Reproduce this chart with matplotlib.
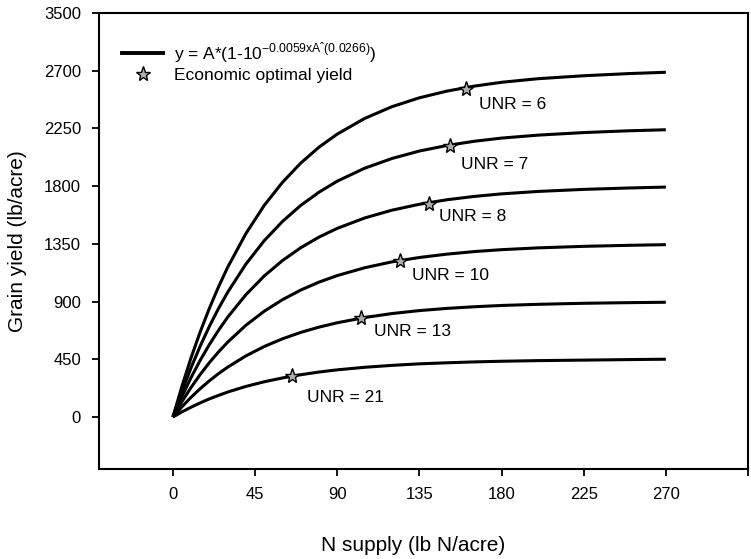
"""Grain yield response curves to N supply at several UNR values."""
import numpy as np
from matplotlib import pyplot as plt
from matplotlib.lines import Line2D

plt.rcParams['font.family'] = ['Liberation Sans', 'DejaVu Sans']
plt.rcParams['mathtext.fontset'] = 'custom'
plt.rcParams['mathtext.rm'] = 'Liberation Sans'

# N supply (lb N/acre) where the curves were read
n_supply = [0, 5, 10, 15, 20, 25, 30, 40, 50, 60, 70, 80, 90, 105, 120,
            135, 150, 165, 180, 200, 225, 250, 270]

# grain yield (lb/acre)
yield_unr6 = [0, 243, 465, 666, 849, 1016, 1168, 1431, 1650, 1830, 1980,
              2104, 2206, 2328, 2420, 2489, 2541, 2580, 2610, 2638, 2661,
              2678, 2688]
yield_unr7 = [0, 203, 387, 555, 708, 847, 973, 1193, 1375, 1525, 1650,
              1753, 1839, 1940, 2016, 2074, 2117, 2150, 2175, 2198, 2218,
              2232, 2240]
yield_unr8 = [0, 162, 310, 444, 566, 677, 779, 954, 1100, 1220, 1320,
              1403, 1471, 1552, 1613, 1659, 1694, 1720, 1740, 1759, 1775,
              1786, 1793]
yield_unr10 = [0, 122, 232, 333, 425, 508, 584, 716, 825, 915, 990, 1052,
               1103, 1164, 1210, 1244, 1270, 1290, 1305, 1319, 1331, 1339,
               1344]
yield_unr13 = [0, 81, 155, 222, 283, 339, 389, 477, 550, 610, 660, 701,
               735, 776, 807, 830, 847, 860, 870, 879, 887, 892, 895]
yield_unr21 = [0, 41, 77, 111, 142, 169, 195, 239, 275, 305, 330, 351,
               368, 388, 403, 415, 423, 430, 435, 440, 444, 448, 451]

# economic optimal yield points
opt_n = [160.8, 151.6, 140.0, 124.6, 103.0, 65.5]
opt_yield = [2560, 2116, 1663, 1219, 772, 317]

unr_labels = ["UNR = 6", "UNR = 7", "UNR = 8", "UNR = 10", "UNR = 13",
              "UNR = 21"]
label_pos = [(167.5, 2436), (157.7, 1968), (146.0, 1562), (130.8, 1102),
             (110.0, 665), (73.4, 150)]

x_ticks = [0, 45, 90, 135, 180, 225, 270, 315]
x_tick_labels = ["0", "45", "90", "135", "180", "225", "270", ""]
y_ticks = [0, 450, 900, 1350, 1800, 2250, 2700, 3150]
y_tick_labels = ["0", "450", "900", "1350", "1800", "2250", "2700", "3500"]

curves = [yield_unr6, yield_unr7, yield_unr8, yield_unr10, yield_unr13,
          yield_unr21]

star_style = dict(marker="*", markersize=11, markerfacecolor="#adadad",
                  markeredgecolor="black", markeredgewidth=1.0)

f = plt.figure(figsize=(7.51, 5.59), dpi=100)
ax = f.add_axes([0.1318, 0.161, 0.8642, 0.8157])

for yv in curves:
    ax.plot(n_supply, yv, color="black", lw=2.2, solid_capstyle="butt")

ax.plot(opt_n, opt_yield, ls="none", zorder=3, **star_style)

for txt, (tx, ty) in zip(unr_labels, label_pos):
    ax.text(tx, ty, txt, fontsize=12.5, va="center", ha="left")

ax.set_xlim(-40.5, 315)
ax.set_ylim(-405, 3150)
ax.set_xticks(x_ticks)
ax.set_xticklabels(x_tick_labels)
ax.set_yticks(y_ticks)
ax.set_yticklabels(y_tick_labels)
ax.tick_params(axis="both", direction="out", length=5, width=1.3,
               labelsize=12, pad=8)
for s in ax.spines.values():
    s.set_linewidth(1.5)

ax.set_xlabel("N supply (lb N/acre)", fontsize=15)
ax.xaxis.set_label_coords(0.484, -0.148)
ax.set_ylabel("Grain yield (lb/acre)", fontsize=15, labelpad=12)

handles = [
    Line2D([], [], color="black", lw=2.8),
    Line2D([], [], ls="none", **star_style),
]
labels = [
    "y = A*(1-10$^{\\mathregular{-0.0059xA\u02c6(0.0266)}}$)",
    "Economic optimal yield",
]
ax.legend(handles, labels, loc="upper left", bbox_to_anchor=(0.035, 0.94),
          frameon=False, fontsize=12.5, handlelength=2.4, handletextpad=0.6,
          borderpad=0, borderaxespad=0, labelspacing=0.15)

f.savefig("out.png", dpi=100)
